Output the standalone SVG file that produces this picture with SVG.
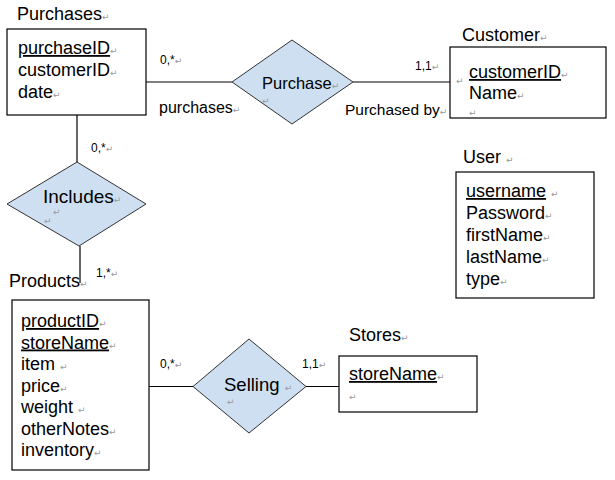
<svg xmlns="http://www.w3.org/2000/svg" width="615" height="480" viewBox="0 0 615 480">
<style>
text{font-family:"Liberation Sans","DejaVu Sans",Arial,sans-serif;fill:#000}
.t{font-size:18px}
.a{font-size:18px}
.u{text-decoration:underline}
.c{font-size:12px}
.l{font-size:16px}
.pm{font-family:"DejaVu Sans",sans-serif;font-size:9px;fill:#9a9a9a}
.box{fill:#fff;stroke:#000;stroke-width:1.2}
.rel{fill:#cddff1;stroke:#333;stroke-width:1}
.ln{stroke:#000;stroke-width:1.2;fill:none}
</style>
<rect width="615" height="480" fill="#fff"/>
<g id="connectors">
<line class="ln" x1="146" y1="82" x2="232" y2="82"/>
<line class="ln" x1="353" y1="82" x2="450" y2="82"/>
<line class="ln" x1="77" y1="115" x2="77" y2="162"/>
<line class="ln" x1="80" y1="246" x2="80" y2="283"/>
<line class="ln" x1="149" y1="386.5" x2="193" y2="386.5"/>
<line class="ln" x1="306" y1="386.5" x2="339" y2="386.5"/>
<text class="c" x="160" y="64">0,*<tspan class="pm">↵</tspan></text>
<text class="l" x="159" y="113">purchases<tspan class="pm">↵</tspan></text>
<text class="c" x="415" y="70">1,1<tspan class="pm">↵</tspan></text>
<text class="l" x="345" y="115" style="font-size:15.5px">Purchased by<tspan class="pm">↵</tspan></text>
<text class="c" x="91" y="152">0,*<tspan class="pm">↵</tspan></text>
<text class="c" x="96" y="277">1,*<tspan class="pm">↵</tspan></text>
<text class="c" x="160" y="368">0,*<tspan class="pm">↵</tspan></text>
<text class="c" x="302" y="368">1,1<tspan class="pm">↵</tspan></text>
</g>
<g id="purchases">
<text class="t" x="17" y="20">Purchases<tspan class="pm">↵</tspan></text>
<rect class="box" x="7" y="29" width="139" height="86"/>
<text class="a" x="18" y="54"><tspan class="u">purchaseID</tspan><tspan class="pm">↵</tspan></text>
<text class="a" x="18" y="76">customerID<tspan class="pm">↵</tspan></text>
<text class="a" x="18" y="98">date<tspan class="pm">↵</tspan></text>
</g>
<g id="purchase">
<polygon class="rel" points="232,82 292,40 353,82 292,124"/>
<text class="pm" x="262" y="104">↵</text>
<text class="l" x="262" y="88.5" style="font-size:16.5px">Purchase<tspan class="pm">↵</tspan></text>
</g>
<g id="customer">
<text class="t" x="462" y="41">Customer<tspan class="pm">↵</tspan></text>
<rect class="box" x="450" y="47" width="156" height="71"/>
<text class="pm" x="456" y="84">↵</text>
<text class="a" x="469" y="78"><tspan class="u">customerID</tspan><tspan class="pm">↵</tspan></text>
<text class="a" x="469" y="99">Name<tspan class="pm">↵</tspan></text>
<text class="pm" x="469" y="116">↵</text>
</g>
<g id="includes">
<polygon class="rel" points="7,204 77,162 146,204 79,246"/>
<text class="pm" x="53" y="215">↵</text>
<text class="pm" x="44" y="224">↵</text>
<text class="t" x="43" y="203" style="font-size:19px">Includes<tspan class="pm">↵</tspan></text>
</g>
<g id="user">
<text class="t" x="463" y="163">User <tspan class="pm">↵</tspan></text>
<rect class="box" x="456" y="172" width="138" height="126"/>
<text class="a" x="466" y="197"><tspan class="u">username</tspan> <tspan class="pm">↵</tspan></text>
<text class="a" x="466" y="219">Password<tspan class="pm">↵</tspan></text>
<text class="a" x="466" y="241">firstName<tspan class="pm">↵</tspan></text>
<text class="a" x="466" y="263">lastName<tspan class="pm">↵</tspan></text>
<text class="a" x="466" y="285">type<tspan class="pm">↵</tspan></text>
</g>
<g id="products">
<text class="t" x="9" y="287">Products<tspan class="pm">↵</tspan></text>
<rect class="box" x="12" y="300" width="137" height="170"/>
<text class="a" x="21" y="327"><tspan class="u">productID</tspan><tspan class="pm">↵</tspan></text>
<text class="a" x="21" y="348.5"><tspan class="u">storeName</tspan><tspan class="pm">↵</tspan></text>
<text class="a" x="21" y="370">item <tspan class="pm">↵</tspan></text>
<text class="a" x="21" y="391.5">price<tspan class="pm">↵</tspan></text>
<text class="a" x="21" y="413">weight <tspan class="pm">↵</tspan></text>
<text class="a" x="21" y="434.5">otherNotes<tspan class="pm">↵</tspan></text>
<text class="a" x="21" y="456">inventory<tspan class="pm">↵</tspan></text>
</g>
<g id="selling">
<polygon class="rel" points="193,386.5 249,339 306,386.5 249,433"/>
<text class="pm" x="227" y="405">↵</text>
<text class="t" x="224" y="391" style="font-size:18.5px">Selling <tspan class="pm">↵</tspan></text>
</g>
<g id="stores">
<text class="t" x="349" y="341">Stores<tspan class="pm">↵</tspan></text>
<rect class="box" x="339" y="356" width="138" height="56"/>
<text class="a" x="349" y="380"><tspan class="u">storeName</tspan><tspan class="pm">↵</tspan></text>
<text class="pm" x="349" y="400">↵</text>
</g>
</svg>
